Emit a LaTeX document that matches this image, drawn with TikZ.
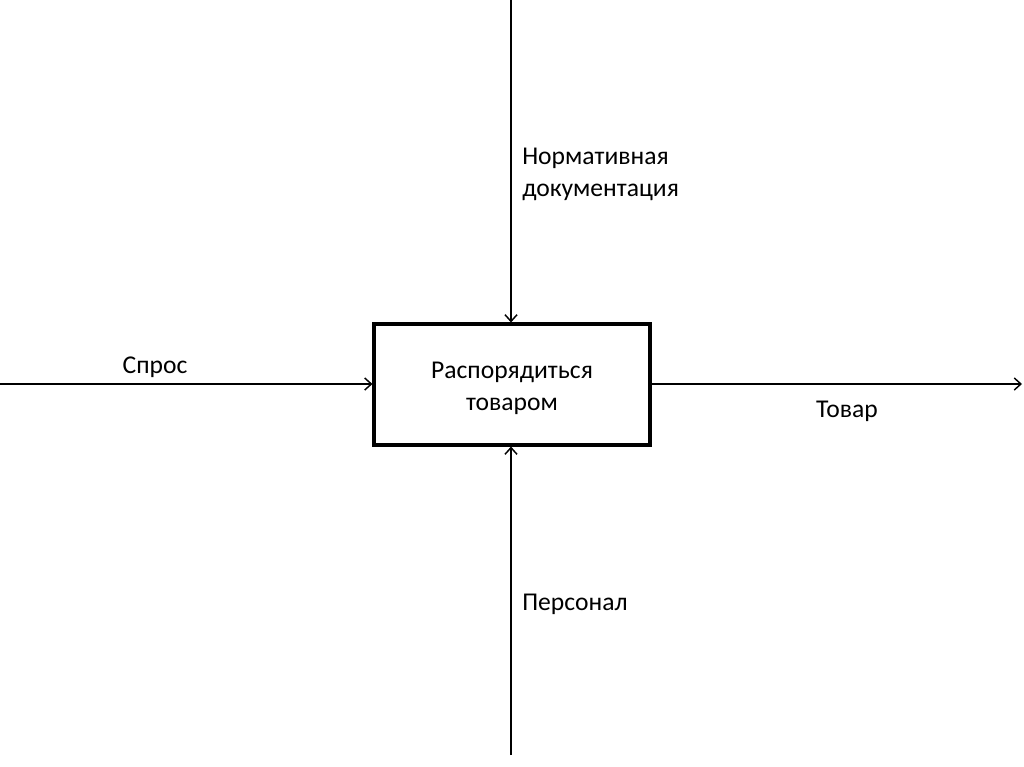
\documentclass[tikz,border=0pt]{standalone}
\usepackage{fontspec}
\setmainfont{Carlito}
\usetikzlibrary{arrows.meta}
\begin{document}
\begin{tikzpicture}[x=0.75pt,y=-0.75pt,
  lbl/.style={font=\fontsize{19.2}{24}\selectfont, inner sep=0pt},
  func/.style={draw, line width=2.3pt, minimum width=207pt, minimum height=90.75pt, inner sep=0pt, align=center, font=\fontsize{19.2}{24}\selectfont},
  conn/.style={line width=1.1pt, -{Straight Barb[length=5pt,width=9pt,line width=1.1pt]}}]
\useasboundingbox (0,0) rectangle (1024,767);
\node[func] (box) at (512,384.5) {};
\node[lbl, align=center] (boxtext) at (512,388) {Распорядиться\\товаром};
\coordinate (top) at (511,0);
\coordinate (left) at (0,384);
\coordinate (right) at (1022,384);
\coordinate (bot) at (511,755);
\draw[conn] (top) -- (box.north -| top);
\draw[conn] (left) -- (box.west |- left);
\draw[conn] (box.east |- right) -- (right);
\draw[conn] (bot) -- (box.south -| bot);
\node[lbl, anchor=base] (spros) at (155,373) {Спрос};
\node[lbl, anchor=base] (tovar) at (847,417) {Товар};
\node[lbl, anchor=north west, align=left] (norm) at (522,148) {Нормативная\\документация};
\node[lbl, anchor=base west] (pers) at (522,610) {Персонал};
\end{tikzpicture}
\end{document}
